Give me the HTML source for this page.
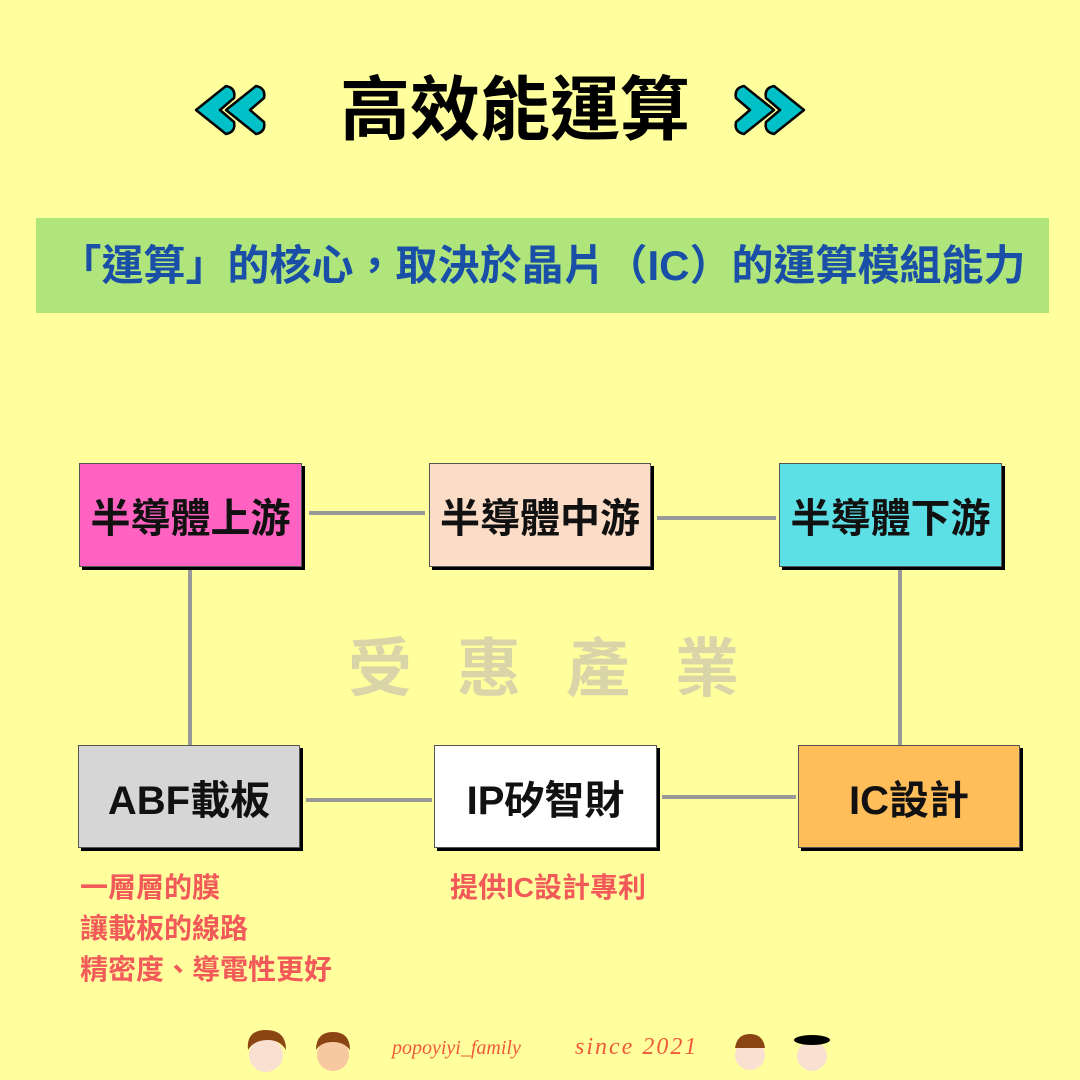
<!DOCTYPE html>
<html><head><meta charset="utf-8"><style>
body{margin:0;width:1080px;height:1080px;background:#ffff9e;position:relative;overflow:hidden;font-family:"Liberation Sans","Noto Sans CJK TC",sans-serif;}
.a{position:absolute;}
.box{position:absolute;border:1.5px solid #555;box-shadow:3px 3px 0 #000;display:flex;align-items:center;justify-content:center;font-weight:bold;font-size:40px;color:#111;box-sizing:border-box;white-space:nowrap;}
.ln{position:absolute;background:#999;}
.red{position:absolute;color:#f25a5a;font-weight:bold;font-size:28px;line-height:28px;white-space:nowrap;}
</style></head><body>
<svg class="a" style="left:0;top:0" width="1080" height="1080">
<g fill="#00c0c8" stroke="#000" stroke-width="2.5" stroke-linejoin="round">
<path d="M226,86 L196,110 L226,134 Q236,132 234,122 L220,110 L234,98 Q236,88 226,86 Z"/>
<path d="M256,86 L226,110 L256,134 Q266,132 264,122 L250,110 L264,98 Q266,88 256,86 Z"/>
<path d="M744,86 L774,110 L744,134 Q734,132 736,122 L750,110 L736,98 Q734,88 744,86 Z"/>
<path d="M774,86 L804,110 L774,134 Q764,132 766,122 L780,110 L766,98 Q764,88 774,86 Z"/>
</g>
<g>
<circle cx="266" cy="1055" r="17" fill="#fae0d0"/><path d="M248,1050 q-2,-20 18,-20 q20,0 20,20 q-6,-10 -18,-10 q-14,0 -20,10z" fill="#8b4513"/>
<circle cx="333" cy="1055" r="16" fill="#f8c8a0"/><path d="M316,1050 q0,-18 17,-18 q17,0 17,18 q-6,-8 -17,-8 q-12,0 -17,8z" fill="#8b4513"/>
<circle cx="750" cy="1055" r="15" fill="#fae0d0"/><path d="M735,1048 q2,-14 15,-14 q13,0 15,14z" fill="#8b4513"/>
<circle cx="812" cy="1056" r="15" fill="#fae0d0"/><ellipse cx="812" cy="1040" rx="18" ry="5" fill="#000"/>
</g>
</svg>
<div class="a" style="left:280px;top:60px;width:470px;text-align:center;font-size:70px;font-weight:bold;line-height:100px;color:#000">高效能運算</div>
<div class="a" style="left:36px;top:218px;width:1013px;height:95px;background:#b0e57c;color:#1a4fa8;font-size:42px;font-weight:bold;line-height:95px;text-align:center;white-space:nowrap">「運算」的核心，取決於晶片（IC）的運算模組能力</div>
<div class="a" style="left:348px;top:618px;width:420px;font-size:64px;font-weight:bold;color:#d9d5a8;letter-spacing:45px;white-space:nowrap">受惠產業</div>
<div class="ln" style="left:309px;top:511px;width:116px;height:4px"></div>
<div class="ln" style="left:657px;top:516px;width:119px;height:4px"></div>
<div class="ln" style="left:188px;top:570px;width:4px;height:175px"></div>
<div class="ln" style="left:898px;top:570px;width:4px;height:175px"></div>
<div class="ln" style="left:306px;top:798px;width:126px;height:4px"></div>
<div class="ln" style="left:662px;top:795px;width:134px;height:4px"></div>
<div class="box" style="left:79px;top:463px;width:223px;height:104px;background:#ff62c0">半導體上游</div>
<div class="box" style="left:429px;top:463px;width:222px;height:104px;background:#fbdcc6">半導體中游</div>
<div class="box" style="left:779px;top:463px;width:223px;height:104px;background:#5ce0e6">半導體下游</div>
<div class="box" style="left:78px;top:745px;width:222px;height:103px;background:#d6d6d6">ABF載板</div>
<div class="box" style="left:434px;top:745px;width:223px;height:103px;background:#fff">IP矽智財</div>
<div class="box" style="left:798px;top:745px;width:222px;height:103px;background:#ffbe5a">IC設計</div>
<div class="red" style="left:80px;top:874px">一層層的膜</div>
<div class="red" style="left:80px;top:915px">讓載板的線路</div>
<div class="red" style="left:80px;top:956px">精密度、導電性更好</div>
<div class="red" style="left:450px;top:874px">提供IC設計專利</div>
<div class="a" style="left:392px;top:1037px;color:#f05a3a;font-size:20px;font-family:'Liberation Serif',serif;font-style:italic">popoyiyi_family</div>
<div class="a" style="left:575px;top:1034px;color:#f05a3a;font-size:24px;font-family:'Liberation Serif',serif;font-style:italic;letter-spacing:2px">since 2021</div>
</body></html>
